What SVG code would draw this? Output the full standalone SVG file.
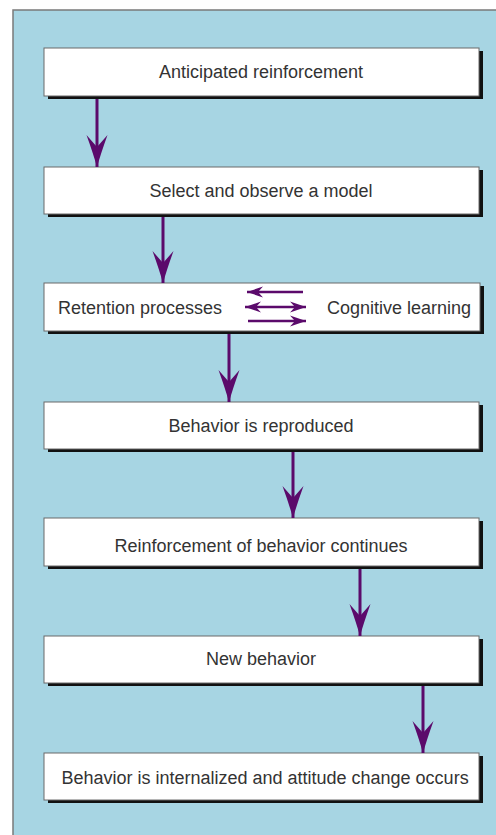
<svg xmlns="http://www.w3.org/2000/svg" width="496" height="835" viewBox="0 0 496 835">
<defs>
<style>
.box{fill:#ffffff;stroke:#6a6a6a;stroke-width:1}
.sh{fill:#111111}
.t{font-family:"Liberation Sans",Arial,sans-serif;font-size:18px;fill:#333333}
.c{text-anchor:middle}
.ln{stroke:#5b0a6b;stroke-width:3;fill:none}
.ls{stroke:#5b0a6b;stroke-width:2.5;fill:none}
</style>
<marker id="ah" markerUnits="userSpaceOnUse" markerWidth="40" markerHeight="24" viewBox="-34 -12 36 24" refX="0" refY="0" orient="auto">
<path d="M0,0 Q-14,-4 -32,-10.5 L-20,0 L-32,10.5 Q-14,4 0,0 Z" fill="#5b0a6b"/>
</marker>
<marker id="as" markerUnits="userSpaceOnUse" markerWidth="20" markerHeight="14" viewBox="-17 -7 18 14" refX="0" refY="0" orient="auto-start-reverse">
<path d="M0,0 L-16,-5.5 L-11,0 L-16,5.5 Z" fill="#5b0a6b"/>
</marker>
</defs>
<rect x="0" y="0" width="496" height="835" fill="#ffffff"/>
<rect x="13" y="10" width="490" height="830" fill="#a7d5e3" stroke="#7a7a7a" stroke-width="1.5"/>
<g id="n1">
<rect class="sh" x="48" y="51" width="435" height="48"/>
<rect class="box" x="44" y="48" width="435" height="48"/>
<text class="t c" x="261" y="78">Anticipated reinforcement</text>
</g>
<g id="n2">
<rect class="sh" x="48" y="170" width="435" height="47"/>
<rect class="box" x="44" y="167" width="435" height="47"/>
<text class="t c" x="261" y="197">Select and observe a model</text>
</g>
<g id="n3">
<rect class="sh" x="48" y="286" width="436" height="48"/>
<rect class="box" x="44" y="283" width="436" height="48"/>
<text class="t" x="58" y="314">Retention processes</text>
<text class="t" x="471" y="314" text-anchor="end">Cognitive learning</text>
</g>
<g id="n4">
<rect class="sh" x="48" y="405" width="435" height="47"/>
<rect class="box" x="44" y="402" width="435" height="47"/>
<text class="t c" x="261" y="432">Behavior is reproduced</text>
</g>
<g id="n5">
<rect class="sh" x="48" y="521" width="435" height="48"/>
<rect class="box" x="44" y="518" width="435" height="48"/>
<text class="t c" x="261" y="552">Reinforcement of behavior continues</text>
</g>
<g id="n6">
<rect class="sh" x="48" y="639" width="435" height="47"/>
<rect class="box" x="44" y="636" width="435" height="47"/>
<text class="t c" x="261" y="665">New behavior</text>
</g>
<g id="n7">
<rect class="sh" x="48" y="756" width="435" height="47"/>
<rect class="box" x="44" y="753" width="435" height="47"/>
<text class="t c" x="265" y="784">Behavior is internalized and attitude change occurs</text>
</g>
<g id="connectors">
<line class="ln" x1="97" y1="99" x2="97" y2="167" marker-end="url(#ah)"/>
<line class="ln" x1="163" y1="217" x2="163" y2="283" marker-end="url(#ah)"/>
<line class="ln" x1="229" y1="334" x2="229" y2="402" marker-end="url(#ah)"/>
<line class="ln" x1="293" y1="452" x2="293" y2="518" marker-end="url(#ah)"/>
<line class="ln" x1="360" y1="569" x2="360" y2="636" marker-end="url(#ah)"/>
<line class="ln" x1="423" y1="686" x2="423" y2="753" marker-end="url(#ah)"/>
<line class="ls" x1="303" y1="292" x2="247" y2="292" marker-end="url(#as)"/>
<line class="ls" x1="245" y1="307" x2="306" y2="307" marker-start="url(#as)" marker-end="url(#as)"/>
<line class="ls" x1="248" y1="321" x2="306" y2="321" marker-end="url(#as)"/>
</g>
</svg>
